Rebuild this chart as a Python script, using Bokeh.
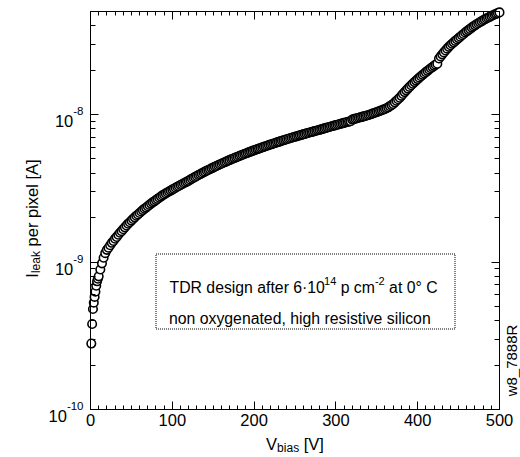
import math
from bokeh.plotting import figure
from bokeh.models import (Range1d, LinearAxis, LogAxis, FixedTicker, Label,
                          BoxAnnotation, ColumnDataSource, SingleIntervalTicker,
                          CustomJSTickFormatter)
from bokeh.embed import file_html
from bokeh.resources import INLINE

# ---------------- data ----------------
v_bias = [
    1, 2, 3, 4, 5, 6, 7, 8, 9, 10,
    12, 14, 16, 18, 20, 22, 24, 26, 28, 30,
    32, 34, 36, 38, 40, 42, 44, 46, 48, 50,
    52, 54, 56, 58, 60, 62, 64, 66, 68, 70,
    72, 74, 76, 78, 80, 82, 84, 86, 88, 90,
    92, 94, 96, 98, 100, 102, 104, 106, 108, 110,
    112, 114, 116, 118, 120, 122, 124, 126, 128, 130,
    132, 134, 136, 138, 140, 142, 144, 146, 148, 150,
    152, 154, 156, 158, 160, 162, 164, 166, 168, 170,
    172, 174, 176, 178, 180, 182, 184, 186, 188, 190,
    192, 194, 196, 198, 200, 202, 204, 206, 208, 210,
    212, 214, 216, 218, 220, 222, 224, 226, 228, 230,
    232, 234, 236, 238, 240, 242, 244, 246, 248, 250,
    252, 254, 256, 258, 260, 262, 264, 266, 268, 270,
    272, 274, 276, 278, 280, 282, 284, 286, 288, 290,
    292, 294, 296, 298, 300, 302, 304, 306, 308, 310,
    312, 314, 316, 318, 320, 322, 324, 326, 328, 330,
    332, 334, 336, 338, 340, 342, 344, 346, 348, 350,
    352, 354, 356, 358, 360, 362, 364, 366, 368, 370,
    372, 374, 376, 378, 380, 382, 384, 386, 388, 390,
    392, 394, 396, 398, 400, 402, 404, 406, 408, 410,
    412, 414, 416, 418, 420, 422, 424, 426, 428, 430,
    432, 434, 436, 438, 440, 442, 444, 446, 448, 450,
    452, 454, 456, 458, 460, 462, 464, 466, 468, 470,
    472, 474, 476, 478, 480, 482, 484, 486, 488, 490,
    492, 494, 496, 498, 500,
]
# leakage current per pixel in nA
i_leak_nA = [
    0.28, 0.38, 0.48, 0.53, 0.58, 0.63, 0.69, 0.74, 0.77, 0.80,
    0.89, 0.98, 1.07, 1.15, 1.21, 1.25, 1.30, 1.35, 1.39, 1.44,
    1.48, 1.53, 1.58, 1.62, 1.67, 1.72, 1.77, 1.82, 1.86, 1.91,
    1.96, 2.01, 2.06, 2.10, 2.15, 2.20, 2.25, 2.30, 2.34, 2.39,
    2.44, 2.49, 2.54, 2.58, 2.63, 2.68, 2.73, 2.78, 2.83, 2.87,
    2.92, 2.96, 3.01, 3.05, 3.10, 3.14, 3.19, 3.24, 3.28, 3.33,
    3.37, 3.42, 3.46, 3.51, 3.56, 3.62, 3.67, 3.73, 3.78, 3.83,
    3.89, 3.94, 3.99, 4.05, 4.10, 4.16, 4.21, 4.26, 4.32, 4.37,
    4.43, 4.48, 4.53, 4.59, 4.64, 4.70, 4.75, 4.80, 4.86, 4.91,
    4.97, 5.02, 5.07, 5.13, 5.18, 5.24, 5.29, 5.34, 5.40, 5.45,
    5.50, 5.56, 5.61, 5.67, 5.72, 5.77, 5.83, 5.88, 5.94, 5.99,
    6.04, 6.10, 6.15, 6.21, 6.26, 6.31, 6.37, 6.42, 6.48, 6.53,
    6.58, 6.64, 6.69, 6.75, 6.80, 6.85, 6.91, 6.96, 7.02, 7.07,
    7.12, 7.18, 7.23, 7.29, 7.34, 7.39, 7.45, 7.50, 7.56, 7.61,
    7.66, 7.72, 7.77, 7.83, 7.88, 7.94, 8.00, 8.06, 8.12, 8.18,
    8.24, 8.30, 8.36, 8.42, 8.48, 8.54, 8.60, 8.66, 8.72, 8.78,
    8.84, 8.90, 8.96, 9.02, 9.25, 9.31, 9.38, 9.44, 9.51, 9.58,
    9.65, 9.72, 9.79, 9.86, 9.93, 10.02, 10.11, 10.21, 10.30, 10.40,
    10.50, 10.60, 10.70, 10.80, 10.90, 11.05, 11.20, 11.40, 11.60, 11.80,
    12.1, 12.4, 12.7, 13.0, 13.4, 13.8, 14.2, 14.6, 15.0, 15.4,
    15.8, 16.2, 16.6, 17.0, 17.4, 17.8, 18.2, 18.6, 19.0, 19.4,
    19.8, 20.2, 20.6, 21.0, 21.4, 21.8, 22.1, 24.0, 24.8, 25.6,
    26.4, 27.2, 28.0, 28.8, 29.5, 30.2, 30.9, 31.6, 32.3, 33.0,
    33.7, 34.5, 35.2, 36.0, 36.7, 37.4, 38.1, 38.9, 39.6, 40.3,
    41.0, 41.6, 42.3, 42.9, 43.6, 44.2, 44.8, 45.4, 46.0, 46.6,
    47.2, 47.7, 48.2, 48.8, 49.3,
]
x_ticks = [0, 100, 200, 300, 400, 500]
x_tick_labels = ["0", "100", "200", "300", "400", "500"]
y_decades = [1e-10, 1e-9, 1e-8]
y_decade_exp = ["-10", "-9", "-8"]
x_range_vals = (0, 500)
y_range_vals = (1e-10, 5e-8)

x_title = [("V", 0), ("bias", -1), (" [V]", 0)]
y_title = [("I", 0), ("leak", -1), (" per pixel [A]", 0)]
box_line1 = [("TDR design after 6\u00b710", 0), ("14", 1), (" p cm", 0), ("-2", 1), (" at 0\u00b0 C", 0)]
box_line2 = [("non oxygenated, high resistive silicon", 0)]
side_tag = "w8_7888R"

# ---------------- layout ----------------
FONT = "Liberation Sans"
W, H = 520, 455
FL, FR, FT, FB = 90, 499, 11, 409  # plot box edges in canvas pixels
AX_FS = 16.5   # axis numbers / titles
SUP_FS = 11.5
BOX_FS = 15.8

AW = {' ': 278, ',': 278, '-': 333, '.': 278, '_': 556, '\u00b0': 400, '\u00b7': 278,
      '[': 278, ']': 278}
for ch in "0123456789":
    AW[ch] = 556
AW.update(dict(zip("ABCDEFGHIJKLMNOPQRSTUVWXYZ",
                   [667, 667, 722, 722, 667, 611, 778, 722, 278, 500, 667, 556, 833,
                    722, 778, 667, 778, 722, 667, 611, 722, 667, 944, 667, 667, 611])))
AW.update(dict(zip("abcdefghijklmnopqrstuvwxyz",
                   [556, 556, 500, 556, 556, 278, 556, 556, 222, 222, 500, 222, 833,
                    556, 556, 556, 556, 333, 500, 278, 556, 500, 722, 500, 500, 500])))


def tw(s, size):
    return sum(AW.get(c, 556) for c in s) * size / 1000.0


LY0, LY1 = math.log10(y_range_vals[0]), math.log10(y_range_vals[1])


def dx(px):
    return x_range_vals[0] + (px - FL) / (FR - FL) * (x_range_vals[1] - x_range_vals[0])


def dy(py):
    return 10 ** (LY1 - (py - FT) / (FB - FT) * (LY1 - LY0))


def py_of(val):
    return FT + (LY1 - math.log10(val)) / (LY1 - LY0) * (FB - FT)


def px_of(val):
    return FL + (val - x_range_vals[0]) / (x_range_vals[1] - x_range_vals[0]) * (FR - FL)


# the frame fills the whole canvas; the axes are pinned to the plot box
p = figure(width=W, height=H, y_axis_type="log",
           x_range=Range1d(dx(0), dx(W)), y_range=Range1d(dy(H), dy(0)),
           output_backend="svg", toolbar_location=None,
           min_border_left=0, min_border_right=0, min_border_top=0, min_border_bottom=0)
p.outline_line_color = None
p.background_fill_color = "white"
p.border_fill_color = "white"
p.xgrid.visible = False
p.ygrid.visible = False

yminor = []
for d in y_decades:
    for m in range(2, 10):
        if d * m <= y_range_vals[1] * 1.0001:
            yminor.append(d * m)


def style_axis(ax, minor_len=4):
    ax.axis_line_color = "black"
    ax.axis_line_width = 1
    ax.major_tick_line_color = "black"
    ax.minor_tick_line_color = "black"
    ax.major_tick_in = 8
    ax.major_tick_out = 0
    ax.minor_tick_in = minor_len
    ax.minor_tick_out = 0
    ax.formatter = CustomJSTickFormatter(code="return '';")
    ax.major_label_standoff = 0


xb = p.xaxis[0]
xb.ticker = SingleIntervalTicker(interval=100, num_minor_ticks=10)
xb.fixed_location = y_range_vals[0]
xb.bounds = x_range_vals
style_axis(xb)

yl = p.yaxis[0]
yl.ticker = FixedTicker(ticks=y_decades, minor_ticks=yminor)
yl.fixed_location = x_range_vals[0]
yl.bounds = y_range_vals
style_axis(yl, 5)

xt = LinearAxis(ticker=SingleIntervalTicker(interval=100, num_minor_ticks=10),
                fixed_location=y_range_vals[1], bounds=x_range_vals)
style_axis(xt)
p.add_layout(xt, "above")

yr = LogAxis(ticker=FixedTicker(ticks=y_decades, minor_ticks=yminor),
             fixed_location=x_range_vals[1], bounds=y_range_vals)
style_axis(yr, 5)
p.add_layout(yr, "right")

src = ColumnDataSource(dict(v=v_bias, i=[c * 1e-9 for c in i_leak_nA]))
p.scatter(x="v", y="i", source=src, marker="circle", size=8.5,
          fill_color="white", line_color="black", line_width=1.6)

p.add_layout(BoxAnnotation(left=dx(155.5), right=dx(454.5), top=dy(253.5), bottom=dy(328.5),
                           fill_alpha=0, line_color="black", line_alpha=1.0, line_width=1,
                           line_dash="1 1"))


def lab(x_px, y_px, text, size, angle=0.0, align="left", baseline="alphabetic"):
    p.add_layout(Label(x=dx(x_px), y=dy(y_px), text=text, text_font=FONT,
                       text_font_size=f"{size}px", text_color="black",
                       angle=angle, text_align=align, text_baseline=baseline))


def rich_h(pieces, x_px, base_py, size, subsize, center=False):
    total = sum(tw(t, size if s == 0 else subsize) for t, s in pieces)
    cur = x_px - total / 2 if center else x_px
    for t, s in pieces:
        sz = size if s == 0 else subsize
        lead = len(t) - len(t.lstrip())
        shift = 0 if s == 0 else (7 if s > 0 else -4.5)
        lab(cur + tw(" " * lead, sz), base_py - shift, t.strip(), sz)
        cur += tw(t, sz)


def rich_v(pieces, base_px, y_center, size, subsize):
    total = sum(tw(t, size if s == 0 else subsize) for t, s in pieces)
    cur = y_center + total / 2
    for t, s in pieces:
        sz = size if s == 0 else subsize
        lead = len(t) - len(t.lstrip())
        shift = 0 if s == 0 else (7 if s > 0 else -4.5)
        lab(base_px - shift, cur - tw(" " * lead, sz), t.strip(), sz, angle=math.pi / 2)
        cur -= tw(t, sz)


# x tick labels
for v, t in zip(x_ticks, x_tick_labels):
    lab(px_of(v), FB + 4, t, AX_FS, align="center", baseline="top")

# y tick labels: 10 with superscript exponent
for d, e in zip(y_decades, y_decade_exp):
    ty = py_of(d)
    right = 83
    sw = tw(e, SUP_FS)
    lab(right - sw, ty - 3.5, e, SUP_FS)
    lab(right - sw, ty + 6.5, "10", AX_FS, align="right")

rich_h(x_title, (FL + FR) / 2, 443, AX_FS, 12, center=True)
rich_v(y_title, 31, 218, AX_FS, 12)
rich_h(box_line1, 169, 287, BOX_FS, 11)
rich_h(box_line2, 168.5, 318, BOX_FS, 11)
lab(511, 360, side_tag, 15, angle=math.pi / 2, align="center", baseline="middle")

open("out.html", "w").write(file_html(p, INLINE))
